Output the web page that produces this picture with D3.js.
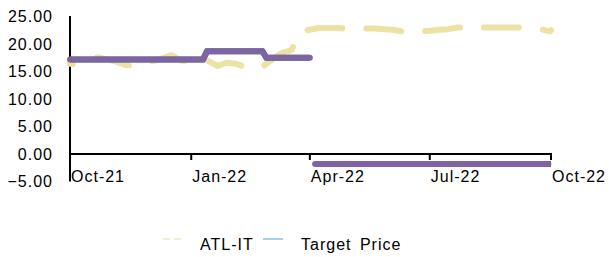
<!DOCTYPE html>
<html>
<head>
<meta charset="utf-8">
<script src="https://cdn.jsdelivr.net/npm/d3@7"></script>
<style>
  body { margin: 0; background: #fff; }
  text { font-family: "Liberation Sans", Arial, sans-serif; font-size: 16px; letter-spacing: 1px; fill: #000; }
</style>
</head>
<body>
<svg id="chart" width="611" height="257"></svg>
<script>
// weekly closes, ATL-IT, starting 1 Oct 2021
var priceStart = "2021-10-01";
var priceValues = [16.4, 16.3, 16.6, 17.6, 17.2, 16.8, 16.2, 16.0, 16.4, 16.9,
  17.4, 18.0, 17.0, 16.8, 16.7, 16.9, 16.0, 16.6, 16.4, 15.8,
  16.3, 16.0, 17.3, 18.4, 18.9, 22.2, 22.6, 22.9, 22.9, 22.9,
  22.8, 22.8, 22.8, 22.8, 22.7, 22.6, 22.3, 22.3, 22.3, 22.4,
  22.6, 22.7, 23.0, 23.0, 23.0, 23.0, 23.0, 23.0, 23.0, 23.0,
  22.9, 22.7, 22.3, 22.5];

// target price change points (null = break)
var targetDates = ["2021-10-01", "2022-01-10", "2022-01-13", "2022-02-24", "2022-02-27", "2022-04-01",
  null, "2022-04-05", "2022-10-01"];
var targetValues = [17.2, 17.2, 18.7, 18.7, 17.5, 17.5, null, -1.8, -1.8];

var yTicks = [25, 20, 15, 10, 5, 0, -5];
var xTickDates = ["2021-10-01", "2022-01-01", "2022-04-01", "2022-07-01", "2022-10-01"];
var seriesNames = ["ATL-IT", "Target Price"];

var parse = d3.utcParse("%Y-%m-%d"),
    fmt = d3.utcFormat("%b-%y");

var svg = d3.select("#chart");

var x = d3.scaleUtc()
  .domain([parse("2021-10-01"), parse("2022-10-01")])
  .range([70, 551]);
var y = d3.scaleLinear().domain([-5, 25]).range([181.5, 16.5]);

var t0 = parse(priceStart);
var price = priceValues.map(function (v, i) {
  var d = d3.utcDay.offset(t0, 7 * i);
  return { date: d > x.domain()[1] ? x.domain()[1] : d, value: v };
});
var target = targetDates.map(function (d, i) {
  return { date: d ? parse(d) : null, value: targetValues[i] };
});

//------------- y axis
svg.append("line")
  .attr("x1", x.range()[0]).attr("x2", x.range()[0])
  .attr("y1", y(25) - 0.5).attr("y2", y(-5))
  .attr("stroke", "#000").attr("stroke-width", 2);

svg.selectAll(".ylab")
  .data(yTicks)
  .enter().append("text")
    .attr("class", "ylab")
    .attr("x", 53)
    .attr("y", function (d) { return y(d); })
    .attr("dy", "0.36em")
    .attr("text-anchor", "end")
    .text(function (d) { return d3.format(".2f")(d); });

//------------- x axis at zero
svg.append("line")
  .attr("x1", x.range()[0]).attr("x2", x.range()[1] + 1)
  .attr("y1", y(0)).attr("y2", y(0))
  .attr("stroke", "#000").attr("stroke-width", 2);

var xt = svg.selectAll(".xt")
  .data(xTickDates.map(parse))
  .enter().append("g")
    .attr("class", "xt")
    .attr("transform", function (d) { return "translate(" + x(d) + "," + y(0) + ")"; });

xt.append("line").attr("y2", 6).attr("stroke", "#000").attr("stroke-width", 2);
xt.append("text")
  .attr("x", 1)
  .attr("y", 28)
  .text(function (d) { return fmt(d); });

//------------- lines
var priceLine = d3.line()
  .x(function (d) { return x(d.date); })
  .y(function (d) { return y(d.value); });

var targetLine = d3.line()
  .defined(function (d) { return d.date !== null; })
  .x(function (d) { return x(d.date); })
  .y(function (d) { return y(d.value); });

var dash = 35, gap = 24;
var pricePath = svg.append("path")
  .datum(price)
  .attr("fill", "none")
  .attr("stroke", "#ebe2a3")
  .attr("stroke-width", 6)
  .attr("stroke-linecap", "round")
  .attr("stroke-linejoin", "round")
  .attr("stroke-dasharray", dash + "," + gap)
  .attr("d", priceLine);

// line the dash pattern up so a dash begins just after the March jump
(function () {
  var node = pricePath.node(), total = node.getTotalLength();
  var lo = 0, hi = total, xTarget = x(parse("2022-03-28")) + 3;
  for (var k = 0; k < 30; k++) {
    var mid = (lo + hi) / 2;
    if (node.getPointAtLength(mid).x < xTarget) lo = mid; else hi = mid;
  }
  var p = dash + gap;
  pricePath.attr("stroke-dashoffset", p - (lo % p));
})();

svg.append("path")
  .datum(target)
  .attr("fill", "none")
  .attr("stroke", "#1f7fa6")
  .attr("stroke-width", 6)
  .attr("stroke-linecap", "butt")
  .attr("d", targetLine);

svg.append("path")
  .datum(target)
  .attr("fill", "none")
  .attr("stroke", "#8064a2")
  .attr("stroke-width", 6)
  .attr("stroke-linecap", "round")
  .attr("stroke-linejoin", "round")
  .attr("d", function (d) {
    // keep the blue end visible: stop purple a touch short
    var pts = d.slice();
    var last = pts[pts.length - 1];
    pts[pts.length - 1] = { date: d3.utcDay.offset(last.date, -2), value: last.value };
    return targetLine(pts);
  });

//------------- legend
var legend = svg.append("g").attr("class", "legend");

legend.append("line")
  .attr("x1", 163).attr("x2", 182).attr("y1", 239).attr("y2", 239)
  .attr("stroke", "#f2edd2").attr("stroke-width", 2)
  .attr("stroke-dasharray", "7,4");
legend.append("text").attr("x", 200).attr("y", 250).text(seriesNames[0]);

legend.append("line")
  .attr("x1", 263).attr("x2", 283).attr("y1", 239).attr("y2", 239)
  .attr("stroke", "#a9d0e0").attr("stroke-width", 2);
legend.append("text").attr("x", 301).attr("y", 250)
  .style("word-spacing", "3px")
  .text(seriesNames[1]);
</script>
</body>
</html>
